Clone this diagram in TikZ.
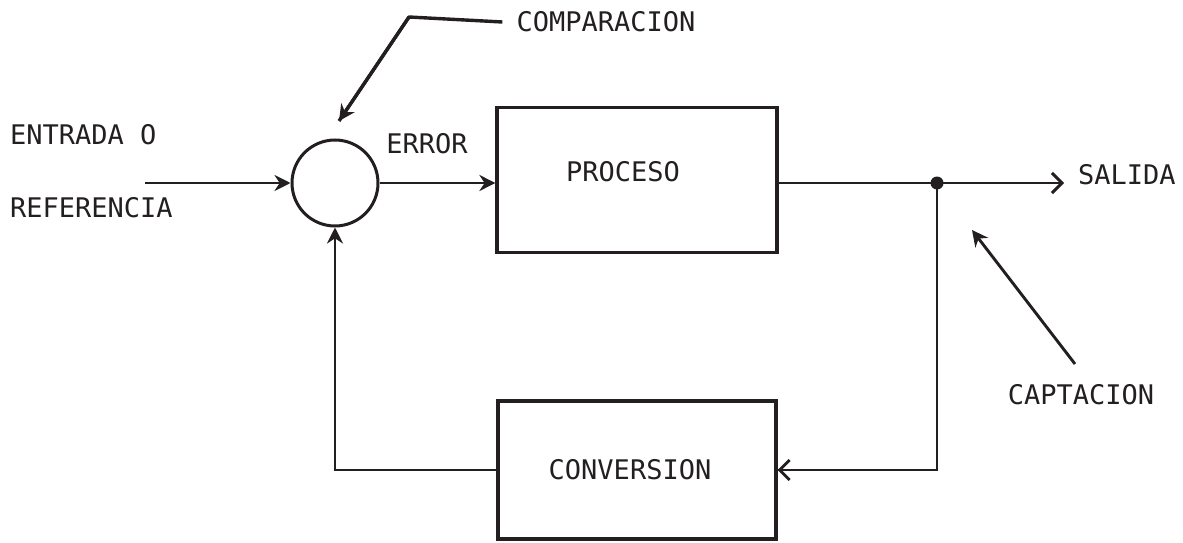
\documentclass[tikz,border=0pt]{standalone}
\usepackage{fontspec}
\newfontfamily\typew{DejaVu Sans Mono}
\usetikzlibrary{arrows.meta}
\definecolor{ink}{HTML}{231F20}
\tikzset{
  wire/.style={draw=ink, line width=2.9pt},
  flow/.style={wire, -{Stealth[length=16pt,width=16pt]}},
  barb/.style={wire, -{Straight Barb[length=10pt,width=20pt,line width=2.9pt]}},
  block/.style={draw=ink, line width=3.2pt, rectangle, inner sep=0pt},
  label/.style={text=ink, font=\typew\fontsize{27}{30}\selectfont, inner sep=0pt},
}
\begin{document}
\begin{tikzpicture}[x=1pt,y=-1pt]
\useasboundingbox (0,0) rectangle (1183,543);

% blocks
\node[draw=ink, line width=3pt, circle, minimum size=86pt, inner sep=0pt] (sum) at (335,183) {};
\node[block, minimum width=280pt, minimum height=145pt] (proc) at (637,180) {};
\node[block, minimum width=278pt, minimum height=138pt] (conv) at (637,470) {};
\node[label] at (623,172) {PROCESO};
\node[label] at (630,470) {CONVERSION};

% texts
\node[label, anchor=west] (entrada) at (10,135) {ENTRADA O};
\node[label, anchor=west] (referencia) at (10,208) {REFERENCIA};
\node[label] (err) at (427,144) {ERROR};
\node[label, anchor=west] (salida) at (1078,175) {SALIDA};
\node[label] (comp) at (606,22) {COMPARACION};
\node[label] (capt) at (1081,395) {CAPTACION};

% points
\coordinate (in) at (145,183);
\coordinate (tap) at (937,183);
\coordinate (outend) at (1064,183);
\coordinate (compknee) at (409,17);
\coordinate (comptip) at (339,121);
\coordinate (captstart) at (1075,364);
\coordinate (capttip) at (972,230);

% signal path
\draw[flow] (in) -- (sum.west);
\draw[flow] (sum.east) -- (proc.west |- sum);
\draw[wire] (proc.east |- tap) -- (tap);
\draw[barb] (tap) -- (outend);
\fill[ink] (tap) circle (6.5pt);
\draw[wire] (tap) |- (conv.east);
\draw[barb] (tap |- conv.east) -- (conv.east);
\draw[flow] (conv.west) -| (sum.south);

% pointers
\draw[wire, line width=3.4pt, line join=round] (comp.west) ++(-14pt,0) -- (compknee) -- (comptip);
\draw[flow, line width=3.2pt] (compknee) -- (comptip);
\draw[flow] (captstart) -- (capttip);
\end{tikzpicture}
\end{document}
